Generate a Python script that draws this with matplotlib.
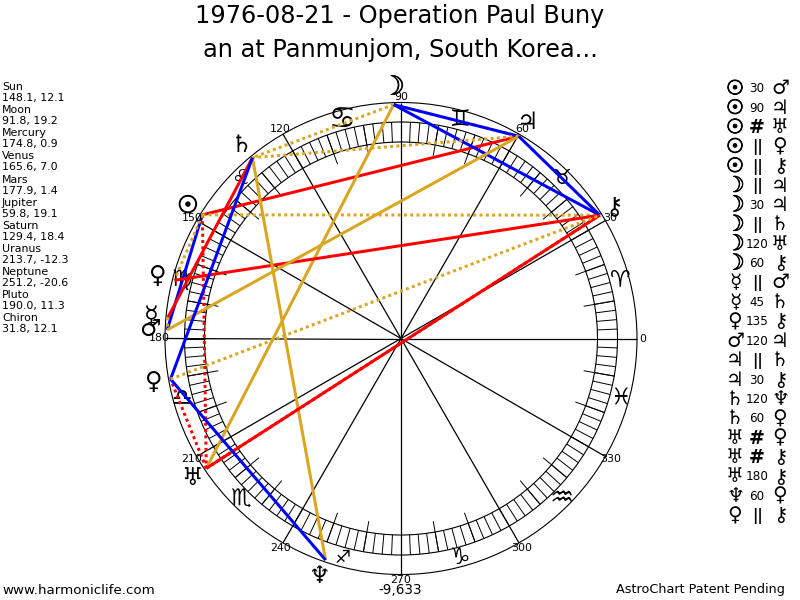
import numpy as np
import matplotlib
matplotlib.use("Agg")
import matplotlib.pyplot as plt
import matplotlib.patheffects as pe
from matplotlib.patches import Circle

title_lines = ["1976-08-21 - Operation Paul Buny", "an at Panmunjom, South Korea..."]
planet_names = ["Sun", "Moon", "Mercury", "Venus", "Mars", "Jupiter", "Saturn",
                "Uranus", "Neptune", "Pluto", "Chiron"]
longitudes = [148.1, 91.8, 174.8, 165.6, 177.9, 59.8, 129.4, 213.7, 251.2, 190.0, 31.8]
declinations = [12.1, 19.2, 0.9, 7.0, 1.4, 19.1, 18.4, -12.3, -20.6, 11.3, 12.1]
glyphs = ["\u2609", "\u263D", "\u263F", "\u2640", "\u2642", "\u2643", "\u2644",
          "\u2645", "\u2646", "\u2640", "\u26B7"]
signs = ["\u2648", "\u2649", "\u264A", "\u264B", "\u264C", "\u264D",
         "\u264E", "\u264F", "\u2650", "\u2651", "\u2652", "\u2653"]
aspect_a = ["Sun", "Sun", "Sun", "Sun", "Sun", "Moon", "Moon", "Moon", "Moon", "Moon",
            "Mercury", "Mercury", "Venus", "Mars", "Jupiter", "Jupiter", "Saturn",
            "Saturn", "Uranus", "Uranus", "Uranus", "Neptune", "Pluto"]
aspect_k = ["30", "90", "#", "||", "||", "||", "30", "||", "120", "60",
            "||", "45", "135", "120", "||", "30", "120",
            "60", "#", "#", "180", "60", "||"]
aspect_b = ["Mars", "Jupiter", "Uranus", "Venus", "Chiron", "Jupiter", "Jupiter", "Saturn",
            "Uranus", "Chiron", "Mars", "Saturn", "Chiron", "Jupiter", "Saturn", "Chiron",
            "Neptune", "Pluto", "Pluto", "Chiron", "Chiron", "Pluto", "Chiron"]
footer_left = "www.harmoniclife.com"
footer_right = "AstroChart Patent Pending"
footer_mid = "-9,633"

GOLD = "#DAA520"
style = {"30": ("blue", "-"), "60": ("blue", "-"),
         "45": ("red", "-"), "90": ("red", "-"), "135": ("red", "-"), "180": ("red", "-"),
         "120": (GOLD, "-"), "||": (GOLD, (0, (1, 1.1))), "#": ("red", (0, (1, 1.1)))}
sign_px = {"\u2649": 21, "\u264B": 30, "\u264C": 21, "\u2650": 18, "\u2652": 27}

R_OUT, R_B1, R_B0 = 236, 216.5, 196.5
CX, CY = 401, 338.5
PX = 0.72
F = "DejaVu Sans"

fig = plt.figure(figsize=(8, 6), dpi=100)
ax = fig.add_axes([0, 0, 1, 1])
ax.set_xlim(-CX, 800 - CX)
ax.set_ylim(600 - CY, -CY)
ax.axis("off")


def pol(lon, r):
    a = np.radians(lon)
    return r * np.cos(a), -r * np.sin(a)


def scr(x, y):
    return x - CX, y - CY


def put_glyph(x, y, name, px):
    base = {"Moon": 1.1}.get(name, 1.0)
    t = ax.text(x, y, glyph_of[name], fontsize=px * base * PX, family=F,
                ha="center", va="center", color="black", zorder=4)
    stroke = {"Sun": 0.7, "Moon": 0.4}.get(name)
    if stroke:
        t.set_path_effects([pe.withStroke(linewidth=stroke, foreground="black")])


for r in (R_OUT, R_B1, R_B0):
    ax.add_patch(Circle((0, 0), r, fill=False, ec="black", lw=0.8))

for d in np.arange(0, 360, 2.5):
    x0, y0 = pol(d, R_B0)
    x1, y1 = pol(d, R_B1)
    ax.plot([x0, x1], [y0, y1], color="black", lw=0.7, solid_capstyle="butt")
for d in range(0, 360, 10):
    if d % 30:
        x0, y0 = pol(d, R_B0 - 11)
        x1, y1 = pol(d, R_B1)
        ax.plot([x0, x1], [y0, y1], color="black", lw=0.7, solid_capstyle="butt")
for d in range(0, 360, 30):
    x1, y1 = pol(d, R_OUT)
    ax.plot([0, x1], [0, y1], color="black", lw=0.9, solid_capstyle="butt")
    x, y = pol(d, 241.5)
    ax.text(x, y, str(d), fontsize=11 * PX, family=F, ha="center", va="center", color="black", zorder=5)

for i, s in enumerate(signs):
    x, y = pol(15 + 30 * i, 227)
    ax.text(x, y, s, fontsize=sign_px.get(s, 23) * PX, family=F, ha="center", va="center", color="black")

lon_of = dict(zip(planet_names, longitudes))
glyph_of = dict(zip(planet_names, glyphs))
for a, k, b in zip(aspect_a, aspect_k, aspect_b):
    col, ls = style[k]
    x0, y0 = pol(lon_of[a], R_OUT - 2)
    x1, y1 = pol(lon_of[b], R_OUT - 2)
    ax.plot([x0, x1], [y0, y1], color=col, ls=ls, lw=3 * PX,
            solid_capstyle="butt", dash_capstyle="butt", zorder=3)

for n in planet_names:
    x, y = pol(lon_of[n], 251)
    put_glyph(x, y, n, 24)

for i, t in enumerate(title_lines):
    x, y = scr(400, 16.5 + 34 * i)
    ax.text(x, y, t, fontsize=24 * PX, family=F, ha="center", va="center", color="black")

for i, (n, lo, de) in enumerate(zip(planet_names, longitudes, declinations)):
    x, y = scr(2, 87 + 23.14 * i)
    ax.text(x, y, n, fontsize=11 * PX, family=F, ha="left", va="center")
    x, y = scr(2, 98 + 23.14 * i)
    ax.text(x, y, f"{lo:.1f}, {de:.1f}", fontsize=11 * PX, family=F, ha="left", va="center")

for i, (a, k, b) in enumerate(zip(aspect_a, aspect_k, aspect_b)):
    yy = 89 + 19.4 * i
    x, y = scr(735, yy)
    put_glyph(x, y, a, 20)
    x, y = scr(757, yy)
    if k in ("||", "#"):
        ax.text(x, y, k, fontsize=(15 if k == "||" else 19) * PX, family=F,
                fontweight="bold", ha="center", va="center")
    else:
        ax.text(x, y, k, fontsize=12 * PX, family=F, ha="center", va="center")
    x, y = scr(780, yy)
    put_glyph(x, y, b, 20)

x, y = scr(2, 590)
ax.text(x, y, footer_left, fontsize=13.4 * PX, family=F, ha="left", va="center")
x, y = scr(785, 590)
ax.text(x, y, footer_right, fontsize=12.8 * PX, family=F, ha="right", va="center")
x, y = scr(400, 590)
ax.text(x, y, footer_mid, fontsize=13.5 * PX, family=F, ha="center", va="center")

fig.savefig("out.png", dpi=100)
